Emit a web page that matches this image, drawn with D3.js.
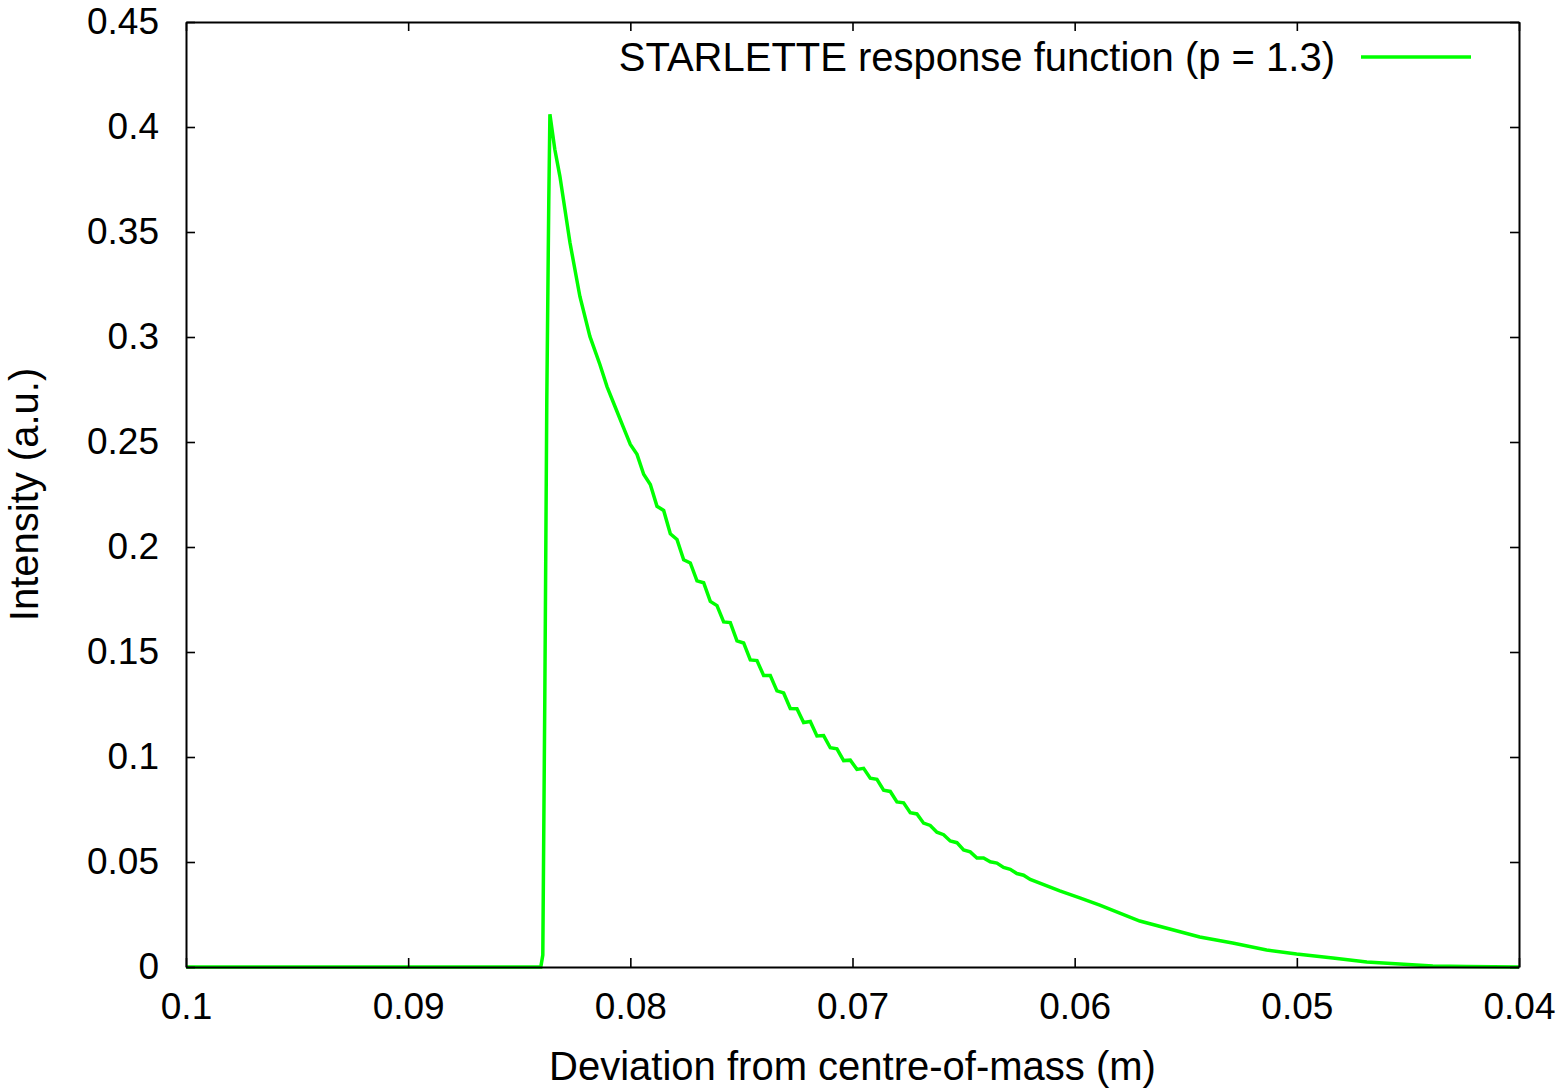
<!DOCTYPE html>
<html>
<head>
<meta charset="utf-8">
<script src="https://cdnjs.cloudflare.com/ajax/libs/d3/7.8.5/d3.min.js"></script>
<style>
  body { margin: 0; background: #fff; }
  text { font-family: "Liberation Sans", Arial, sans-serif; }
</style>
</head>
<body>
<div id="chart"></div>
<script>
var deviation = [0.1, 0.08403, 0.08394, 0.08385, 0.08376, 0.08367, 0.08362, 0.0834, 0.08317, 0.08272,
  0.08227, 0.08182, 0.08137, 0.08105, 0.08069, 0.08033, 0.08, 0.0797, 0.0794, 0.0791,
  0.0788, 0.0785, 0.0782, 0.0779, 0.0776, 0.0773, 0.077, 0.0767, 0.0764, 0.0761,
  0.0758, 0.0755, 0.0752, 0.0749, 0.0746, 0.0743, 0.074, 0.0737, 0.0734, 0.0731,
  0.0728, 0.0725, 0.0722, 0.0719, 0.0716, 0.0713, 0.071, 0.0707, 0.0704, 0.0701,
  0.0698, 0.0695, 0.0692, 0.0689, 0.0686, 0.0683, 0.068, 0.0677, 0.0674, 0.0671,
  0.0668, 0.0665, 0.0662, 0.0659, 0.0656, 0.0653, 0.065, 0.0647, 0.0644, 0.0641,
  0.0638, 0.0635, 0.0632, 0.0629, 0.0626, 0.0623, 0.062, 0.06067, 0.05977, 0.05887,
  0.05797, 0.05707, 0.05572, 0.05437, 0.05289, 0.05136, 0.05001, 0.04838, 0.04685, 0.04537,
  0.04388, 0.04235, 0.04];

var intensity = [0, 0, 0.0057, 0.1273, 0.2702, 0.3655, 0.4061, 0.3894, 0.3765, 0.3451,
  0.3193, 0.3003, 0.2869, 0.2764, 0.2669, 0.2574, 0.2488, 0.2441, 0.2346, 0.2298,
  0.2194, 0.2174, 0.2063, 0.2036, 0.1939, 0.1924, 0.1839, 0.183, 0.1741, 0.1721,
  0.1643, 0.164, 0.1553, 0.1543, 0.1462, 0.1459, 0.1388, 0.1388, 0.1315, 0.1305,
  0.1231, 0.123, 0.1164, 0.1169, 0.11, 0.1102, 0.1044, 0.1039, 0.0983, 0.0985,
  0.0941, 0.0946, 0.0899, 0.0894, 0.0842, 0.0836, 0.0786, 0.0782, 0.0735, 0.0729,
  0.0685, 0.0674, 0.0642, 0.063, 0.06, 0.0592, 0.0557, 0.0548, 0.0519, 0.0519,
  0.0501, 0.0495, 0.0474, 0.0465, 0.0445, 0.0437, 0.0417, 0.0362, 0.0329, 0.0295,
  0.0257, 0.0219, 0.0181, 0.0143, 0.0114, 0.0081, 0.0062, 0.0043, 0.0024, 0.0014,
  0.0005, 0.0002, 0];

var xTicks = [0.1, 0.09, 0.08, 0.07, 0.06, 0.05, 0.04];
var yTicks = [0, 0.05, 0.1, 0.15, 0.2, 0.25, 0.3, 0.35, 0.4, 0.45];
var seriesName = "STARLETTE response function (p = 1.3)";

var width = 1556,
height = 1088,
margin = {top: 22, right: 37, bottom: 121, left: 186},
fontSize = 40,
tickFontSize = 37;

var svg = d3.select("#chart")
.append("svg")
.attr("width", width)
.attr("height", height);

var xScale = d3.scaleLinear()
.domain([0.1, 0.04])
.range([margin.left, width - margin.right]);

var yScale = d3.scaleLinear()
.domain([0, 0.45])
.range([height - margin.bottom, margin.top]);

var data = deviation.map(function(d, i) { return {x: d, y: intensity[i]}; });

var line = d3.line()
.x(function(d) { return xScale(d.x); })
.y(function(d) { return yScale(d.y); });

svg.append("path")
.attr("d", line(data))
.style("fill", "none")
.style("stroke", "#00ff00")
.style("stroke-width", 3.5)
.style("stroke-linejoin", "miter");

function styleAxis(g) {
  g.select(".domain").attr("stroke", "#000").attr("stroke-width", 2);
  g.selectAll(".tick line").attr("stroke", "#000").attr("stroke-width", 1.6);
  g.selectAll(".tick text")
  .attr("fill", "#000")
  .attr("font-size", tickFontSize)
  .attr("font-family", "Liberation Sans, Arial, sans-serif");
}

var fmt = function(d) { return String(+d.toFixed(2)); };

svg.append("g")
.attr("transform", `translate(0, ${height - margin.bottom})`)
.call(d3.axisBottom(xScale).tickValues(xTicks).tickSize(-9).tickSizeOuter(0).tickPadding(26).tickFormat(fmt))
.call(styleAxis);

svg.append("g")
.attr("transform", `translate(0, ${margin.top})`)
.call(d3.axisTop(xScale).tickValues(xTicks).tickSize(-9).tickSizeOuter(0).tickFormat(""))
.call(styleAxis);

svg.append("g")
.attr("transform", `translate(${margin.left}, 0)`)
.call(d3.axisLeft(yScale).tickValues(yTicks).tickSize(-9).tickSizeOuter(0).tickPadding(27).tickFormat(fmt))
.call(styleAxis);

svg.append("g")
.attr("transform", `translate(${width - margin.right}, 0)`)
.call(d3.axisRight(yScale).tickValues(yTicks).tickSize(-9).tickSizeOuter(0).tickFormat(""))
.call(styleAxis);

svg.append("text")
.attr("x", (margin.left + width - margin.right) / 2)
.attr("y", 1080)
.attr("text-anchor", "middle")
.attr("font-size", fontSize)
.text("Deviation from centre-of-mass (m)");

svg.append("text")
.attr("transform", `translate(38, ${(margin.top + height - margin.bottom) / 2}) rotate(-90)`)
.attr("text-anchor", "middle")
.attr("font-size", fontSize)
.text("Intensity (a.u.)");

svg.append("text")
.attr("x", 1335)
.attr("y", 71)
.attr("text-anchor", "end")
.attr("font-size", fontSize)
.text(seriesName);

svg.append("line")
.attr("x1", 1361)
.attr("x2", 1471)
.attr("y1", 57)
.attr("y2", 57)
.style("stroke", "#00ff00")
.style("stroke-width", 3.5);
</script>
</body>
</html>
